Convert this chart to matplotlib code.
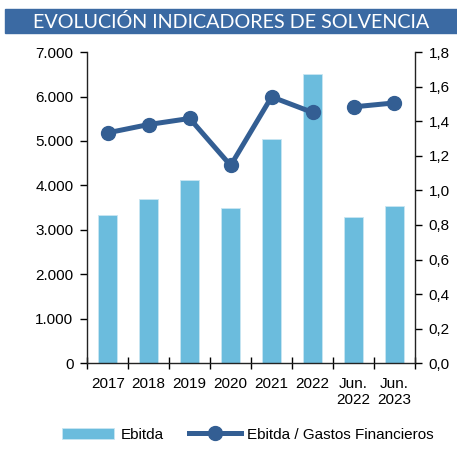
import numpy as np
import matplotlib
matplotlib.use("Agg")
import matplotlib.pyplot as plt
from matplotlib.patches import Rectangle

plt.rcParams["font.family"] = ["Liberation Sans", "DejaVu Sans"]

# data
categories = ["2017", "2018", "2019", "2020", "2021", "2022", "Jun.\n2022", "Jun.\n2023"]
ebitda = [3345, 3690, 4125, 3485, 5035, 6505, 3290, 3535]
ratio = [1.333, 1.381, 1.416, 1.144, 1.541, 1.451, np.nan, np.nan]
ratio_jun = [np.nan, np.nan, np.nan, np.nan, np.nan, np.nan, 1.483, 1.506]

title = "EVOLUCIÓN INDICADORES DE SOLVENCIA"
left_ticks = [0, 1000, 2000, 3000, 4000, 5000, 6000, 7000]
left_labels = ["0", "1.000", "2.000", "3.000", "4.000", "5.000", "6.000", "7.000"]
right_ticks = [0.0, 0.2, 0.4, 0.6, 0.8, 1.0, 1.2, 1.4, 1.6, 1.8]
right_labels = ["0,0", "0,2", "0,4", "0,6", "0,8", "1,0", "1,2", "1,4", "1,6", "1,8"]

bar_color = "#6bbcdd"
line_color = "#335e93"
title_bg = "#3b6aa3"

fig = plt.figure(figsize=(4.57, 4.49), dpi=100)
ax = fig.add_axes([0.191, 0.191, 0.717, 0.693])
ax2 = ax.twinx()

x = np.arange(len(categories))
ax.bar(x, ebitda, width=0.475, color=bar_color, edgecolor="#c9e6f2", linewidth=0.6,
       label="Ebitda", zorder=2)
ax2.plot(x, ratio, color=line_color, lw=3.6, marker="o", ms=10, zorder=3,
         label="Ebitda / Gastos Financieros")
ax2.plot(x, ratio_jun, color=line_color, lw=3.6, marker="o", ms=10, zorder=3)

ax.set_xlim(-0.5, len(categories) - 0.5)
ax.set_ylim(0, 7000)
ax2.set_ylim(0, 1.8)

ax.set_yticks(left_ticks, left_labels)
ax2.set_yticks(right_ticks, right_labels)
ax.set_xticks(x, categories)
ax.set_xticks(np.arange(len(categories) + 1) - 0.5, minor=True)
ax.tick_params(axis="x", which="major", length=0, pad=10, labelsize=11)
ax.tick_params(axis="x", which="minor", direction="inout", length=9, width=1)
ax.tick_params(axis="y", direction="out", length=5, width=1, pad=5, labelsize=11)
ax2.tick_params(axis="y", direction="out", length=5, width=1, pad=5, labelsize=11)

for a in (ax, ax2):
    a.spines["top"].set_visible(False)
    for s in ("left", "right", "bottom"):
        a.spines[s].set_color("#222222")
        a.spines[s].set_linewidth(1)
ax.spines["right"].set_visible(False)
ax2.spines["left"].set_visible(False)
ax2.spines["bottom"].set_visible(False)

# title banner
fig.patches.append(Rectangle((5 / 457, 1 - 33 / 449), 452 / 457, 24 / 449,
                             transform=fig.transFigure, color=title_bg, zorder=0))
fig.text(0.505, 1 - 21.5 / 449, title, color="white", ha="center", va="center",
         fontsize=14.2, family="Lato")

h1, l1 = ax.get_legend_handles_labels()
h2, l2 = ax2.get_legend_handles_labels()
fig.legend(h1 + h2, l1 + l2, loc="center", bbox_to_anchor=(0.543, 0.032), ncol=2,
           frameon=False, fontsize=11, handlelength=3.4, handletextpad=0.45,
           columnspacing=1.6)

fig.savefig("out.png", dpi=100)
